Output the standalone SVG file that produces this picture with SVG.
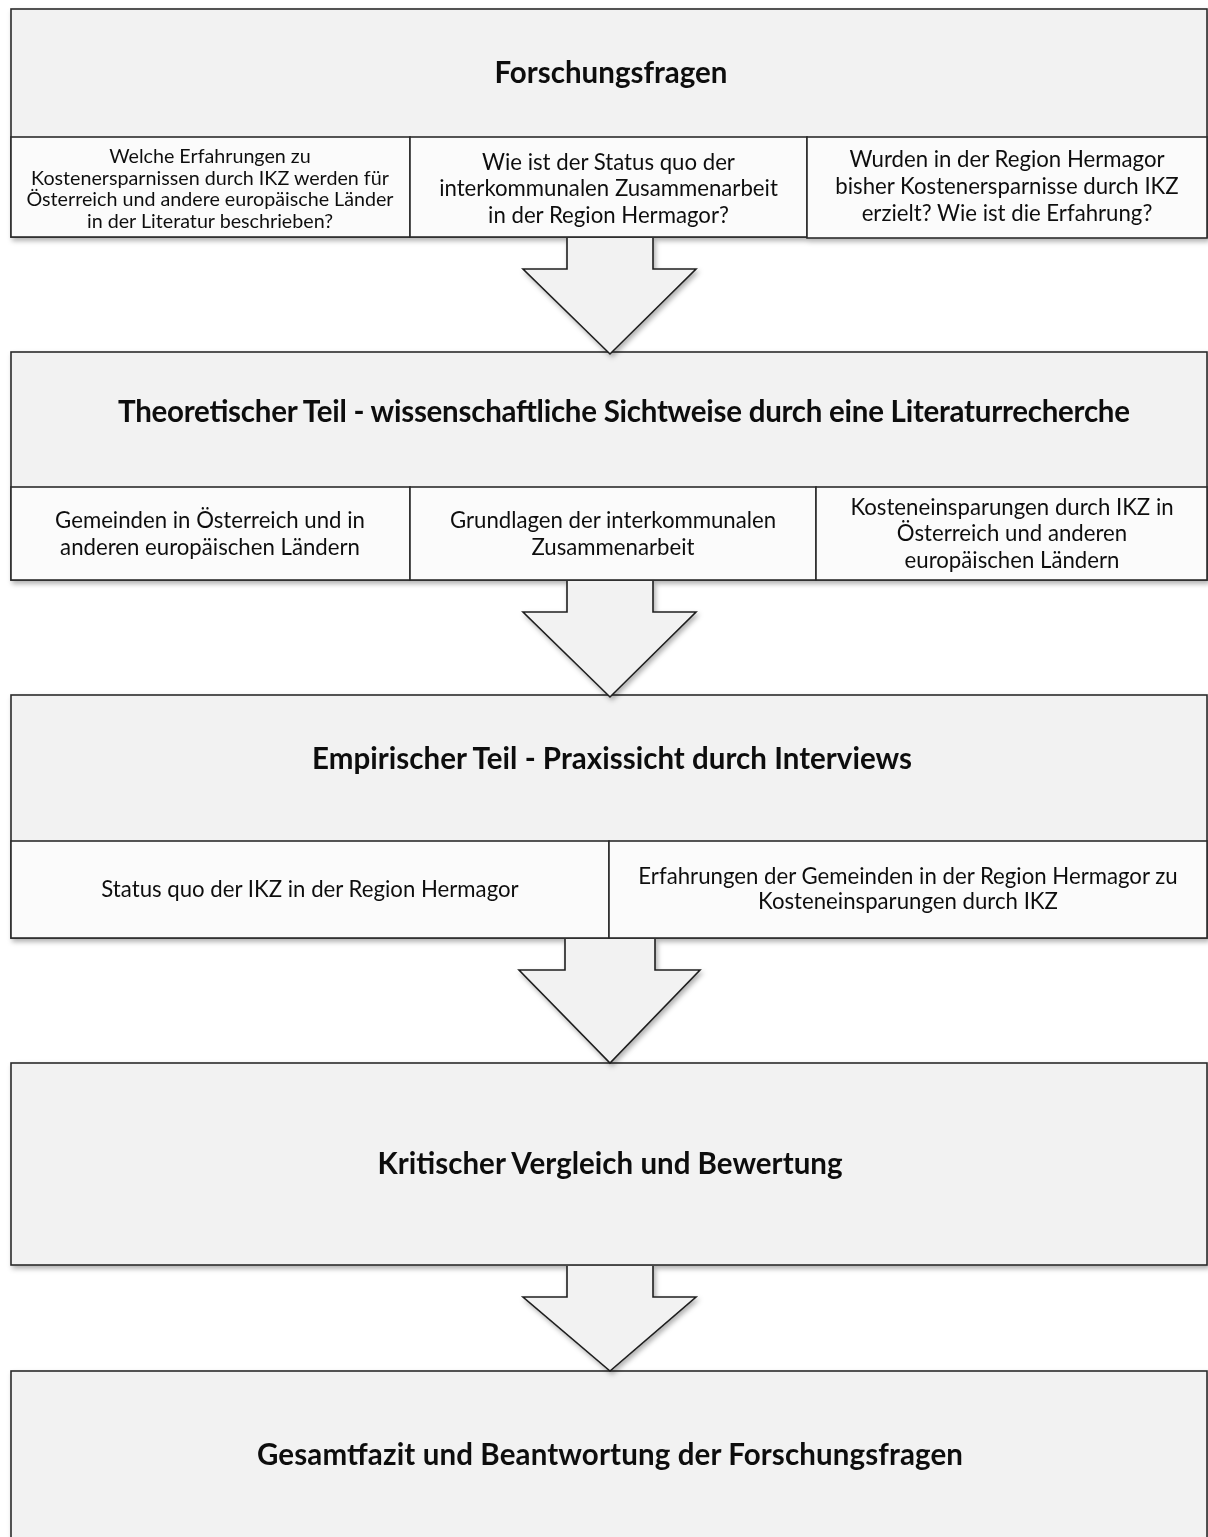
<svg xmlns="http://www.w3.org/2000/svg" width="1208" height="1537" viewBox="0 0 1208 1537">
  <style>
    .hdr { fill: #f2f2f2; stroke: #2b2b2b; stroke-width: 1.6; }
    .cell { fill: #fbfbfb; stroke: #2b2b2b; stroke-width: 1.6; }
    .arrow { fill: #f2f2f2; stroke: #1f1f1f; stroke-width: 1.6; stroke-linejoin: miter; }
    .title { font-family: Lato, "Open Sans", "Liberation Sans", sans-serif; font-weight: bold; font-size: 29.5px; fill: #111; text-anchor: middle; }
    .txt { font-family: Lato, "Open Sans", "Liberation Sans", sans-serif; font-size: 19.7px; fill: #111; text-anchor: middle; }
    .txt2 { font-family: Lato, "Open Sans", "Liberation Sans", sans-serif; font-size: 22.2px; fill: #111; text-anchor: middle; }
  </style>
  <defs>
    <filter id="shadow" x="-5%" y="-10%" width="110%" height="130%">
      <feDropShadow dx="2" dy="3" stdDeviation="2.5" flood-color="#000" flood-opacity="0.3"/>
    </filter>
  </defs>
  <rect width="1208" height="1537" fill="#fff"/>

  <!-- Step 1: research questions -->
  <g id="forschungsfragen" filter="url(#shadow)">
    <rect class="hdr" x="11" y="9" width="1196" height="228"/>
    <text class="title" x="611" y="83" textLength="233">Forschungsfragen</text>
    <rect class="cell" x="11" y="137" width="399" height="100"/>
    <text class="txt"><tspan x="210" y="163">Welche Erfahrungen zu</tspan><tspan x="210" y="184.5">Kostenersparnissen durch IKZ werden für</tspan><tspan x="210" y="206">Österreich und andere europäische Länder</tspan><tspan x="210" y="227.5">in der Literatur beschrieben?</tspan></text>
    <rect class="cell" x="410" y="137" width="397" height="100"/>
    <text class="txt2"><tspan x="608.5" y="169.5">Wie ist der Status quo der</tspan><tspan x="608.5" y="196">interkommunalen Zusammenarbeit</tspan><tspan x="608.5" y="222.5">in der Region Hermagor?</tspan></text>
    <rect class="cell" x="807" y="137" width="400" height="101"/>
    <text class="txt2"><tspan x="1007" y="166.5">Wurden in der Region Hermagor</tspan><tspan x="1007" y="193.5">bisher Kostenersparnisse durch IKZ</tspan><tspan x="1007" y="220.5">erzielt? Wie ist die Erfahrung?</tspan></text>
  </g>

  <!-- Step 2: theory -->
  <g id="theorie" filter="url(#shadow)">
    <rect class="hdr" x="11" y="352" width="1196" height="228"/>
    <text class="title" x="624" y="422" textLength="1012">Theoretischer Teil - wissenschaftliche Sichtweise durch eine Literaturrecherche</text>
    <rect class="cell" x="11" y="487" width="399" height="93"/>
    <text class="txt2"><tspan x="210" y="527.5">Gemeinden in Österreich und in</tspan><tspan x="210" y="554.5">anderen europäischen Ländern</tspan></text>
    <rect class="cell" x="410" y="487" width="406" height="93"/>
    <text class="txt2"><tspan x="613" y="527.5">Grundlagen der interkommunalen</tspan><tspan x="613" y="554.5">Zusammenarbeit</tspan></text>
    <rect class="cell" x="816" y="487" width="391" height="93"/>
    <text class="txt2"><tspan x="1012" y="514.5">Kosteneinsparungen durch IKZ in</tspan><tspan x="1012" y="541">Österreich und anderen</tspan><tspan x="1012" y="567.5">europäischen Ländern</tspan></text>
  </g>

  <!-- Step 3: empirical part -->
  <g id="empirie" filter="url(#shadow)">
    <rect class="hdr" x="11" y="695" width="1196" height="243"/>
    <text class="title" x="612" y="769" textLength="600">Empirischer Teil - Praxissicht durch Interviews</text>
    <rect class="cell" x="11" y="841" width="598" height="97"/>
    <text class="txt2" x="310" y="896.5">Status quo der IKZ in der Region Hermagor</text>
    <rect class="cell" x="609" y="841" width="598" height="97"/>
    <text class="txt2"><tspan x="908" y="883.5">Erfahrungen der Gemeinden in der Region Hermagor zu</tspan><tspan x="908" y="908.5">Kosteneinsparungen durch IKZ</tspan></text>
  </g>

  <!-- Step 4: comparison -->
  <g id="vergleich" filter="url(#shadow)">
    <rect class="hdr" x="11" y="1063" width="1196" height="202"/>
    <text class="title" x="610" y="1174" textLength="465">Kritischer Vergleich und Bewertung</text>
  </g>

  <!-- Step 5: conclusion -->
  <g id="fazit" filter="url(#shadow)">
    <rect class="hdr" x="11" y="1371" width="1196" height="180"/>
    <text class="title" x="610" y="1465" textLength="706">Gesamtfazit und Beantwortung der Forschungsfragen</text>
  </g>

  <!-- Block arrows between the steps -->
  <g id="connectors" filter="url(#shadow)">
    <path class="arrow" d="M567,238 V269 H523 L610,354 L696,269 H653 V238"/>
    <path class="arrow" d="M567,581 V612 H523 L610,697 L696,612 H653 V581"/>
    <path class="arrow" d="M565,939 V970 H519 L610,1063 L700,970 H655 V939"/>
    <path class="arrow" d="M567,1266 V1297 H523 L610,1371 L696,1297 H653 V1266"/>
  </g>
</svg>
